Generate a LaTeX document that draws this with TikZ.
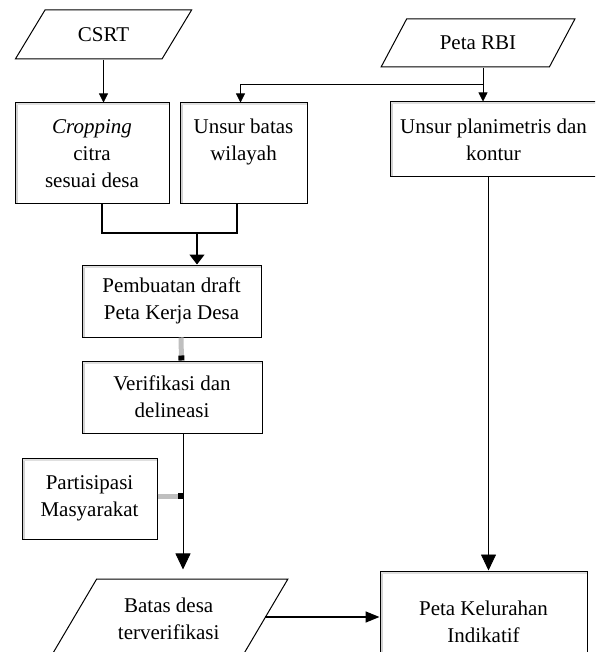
\documentclass[tikz,border=0pt]{standalone}
\usepackage{fontspec}
\setmainfont{Liberation Serif}
\usetikzlibrary{shapes.geometric,arrows.meta}

\tikzset{
  txt/.style={font=\fontsize{21}{27}\selectfont, align=center},
  procbox/.style={txt, draw=black, line width=1pt, fill=white, inner sep=0pt,
    path picture={
      \fill[gray!35] (path picture bounding box.north west) rectangle ([xshift=3pt]path picture bounding box.south west);
      \fill[gray!25] (path picture bounding box.north west) rectangle ([yshift=-2.5pt]path picture bounding box.north east);
    }},
  databox/.style={txt, draw=black, line width=1pt, trapezium, trapezium stretches=true, inner sep=0pt},
  link/.style={line width=0.8pt},
  smallarr/.style={link, -{Triangle[length=9pt,width=9pt]}},
  bigarr/.style={link, -{Triangle[length=16pt,width=15pt]}},
  grayjoin/.style={draw=gray!50, line width=5pt, -{Square[length=5pt,width=6pt,color=black]}},
}

\begin{document}
\begin{tikzpicture}[x=1pt,y=-1pt]
    \clip (0,0) rectangle (595,652);
    \useasboundingbox (0,0) rectangle (595,652);

    % data inputs
    \node[databox, trapezium left angle=47.4, trapezium right angle=132.6,
          minimum width=177pt, minimum height=49pt] (csrt) at (103.5,34.5) {CSRT};
    \node[databox, trapezium left angle=45.6, trapezium right angle=134.4,
          minimum width=194pt, minimum height=48pt] (rbi) at (478,43) {Peta RBI};

    % processes
    \node[procbox, minimum width=154pt, minimum height=101pt] (crop) at (92,153.5)
        {\textit{Cropping}\\citra\\sesuai desa};
    \node[procbox, minimum width=127pt, minimum height=101pt] (ubatas) at (243.5,153.5)
        {Unsur batas\\wilayah\\\mbox{}};
    \node[procbox, minimum width=207pt, minimum height=75pt] (plan) at (493.5,139.5)
        {Unsur planimetris dan\\kontur};
    \node[procbox, minimum width=179pt, minimum height=72pt] (draft) at (171.5,301)
        {Pembuatan draft\\Peta Kerja Desa};
    \node[procbox, minimum width=180pt, minimum height=72pt] (verif) at (172,397)
        {Verifikasi dan\\delineasi};
    \node[procbox, minimum width=135pt, minimum height=81pt] (part) at (89.5,498.5)
        {Partisipasi\\Masyarakat};

    % outputs
    \node[databox, trapezium left angle=51.5, trapezium right angle=128.5,
          minimum width=238.6pt, minimum height=80pt] (batas) at (168.7,619)
        {Batas desa\\terverifikasi};
    \node[procbox, minimum width=207pt, minimum height=102pt] (kel) at (483.5,622)
        {Peta Kelurahan\\Indikatif};

    % connectors
    \coordinate (split) at (483,84);
    \coordinate (merge) at (197,233);
    \coordinate (vline) at ([xshift=11pt]verif.south);

    \draw[smallarr] (csrt.south) -- (csrt.south |- crop.north);
    \draw[link] (rbi.south -| split) -- (split);
    \draw[smallarr] (split) -- (split |- plan.north);
    \draw[smallarr] (split) -| ([xshift=-3pt]ubatas.north);

    \draw[link, line width=1.5pt] ([xshift=10pt]crop.south) |- (merge) -| ([xshift=-6.5pt]ubatas.south);
    \draw[link, line width=1.5pt, -{Triangle[length=10pt,width=15pt]}] (merge) -- (merge |- draft.north);

    \draw[grayjoin] ([xshift=9.5pt]draft.south) -- ([xshift=9.5pt]verif.north);
    \draw[bigarr] (vline) -- ([yshift=9pt]vline |- batas.north);
    \draw[grayjoin] (part.east |- 0,496) -- (vline |- 0,496);

    \draw[bigarr] ([xshift=-5pt]plan.south) -- ([xshift=-5pt]plan.south |- kel.north);
    \draw[link, line width=1.5pt, -{Triangle[length=14pt,width=11pt]}] ([yshift=2pt]batas.east) -- ([yshift=2pt]batas.east -| kel.west);
\end{tikzpicture}
\end{document}
